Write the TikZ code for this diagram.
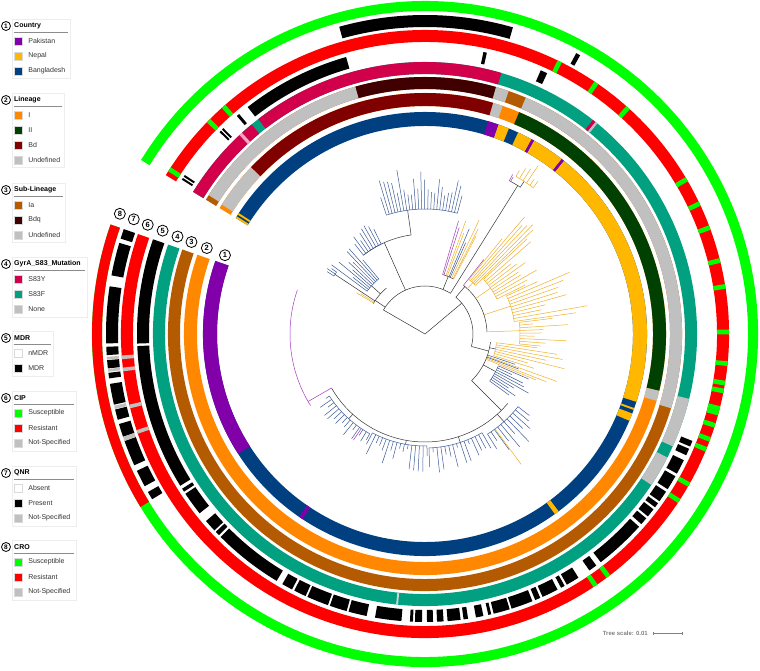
\documentclass[tikz,border=0pt]{standalone}
\usepackage{fontspec}
\setmainfont{Liberation Sans}
\usetikzlibrary{positioning}
\definecolor{pakC}{RGB}{130,0,170}
\definecolor{nepC}{RGB}{255,183,0}
\definecolor{banC}{RGB}{0,64,128}
\definecolor{linIC}{RGB}{255,136,0}
\definecolor{linIIC}{RGB}{0,64,0}
\definecolor{bdC}{RGB}{128,0,0}
\definecolor{undefC}{RGB}{192,192,192}
\definecolor{iaC}{RGB}{180,90,0}
\definecolor{bdqC}{RGB}{64,0,0}
\definecolor{syC}{RGB}{210,0,75}
\definecolor{sfC}{RGB}{0,160,128}
\definecolor{susC}{RGB}{0,255,0}
\definecolor{resC}{RGB}{255,0,0}
\definecolor{treeB}{RGB}{60,90,150}
\definecolor{treeY}{RGB}{240,175,40}
\definecolor{treeP}{RGB}{160,60,190}

% annular sector: inner r, outer r, from angle, to angle, colour
\newcommand{\ringseg}[5]{\fill[#5] (#3:#1) arc[start angle=#3, end angle=#4, radius=#1]
  -- (#4:#2) arc[start angle=#4, end angle=#3, radius=#2] -- cycle;}
% thin stripe: inner r, outer r, centre angle, half width, colour
\newcommand{\stripe}[5]{\pgfmathsetmacro\stA{#3+#4}\pgfmathsetmacro\stB{#3-#4}%
  \ringseg{#1}{#2}{\stA}{\stB}{#5}}
% clade: from, to, intervals, base r, min r, max r, colour
\newcommand{\clade}[7]{%
  \draw[branch,#7] (#1:#4) arc[start angle=#1, end angle=#2, radius=#4];
  \foreach \i in {0,...,#3}{%
    \pgfmathsetmacro\leafang{#1+(#2-#1)*\i/#3}%
    \pgfmathsetmacro\leafrad{#5+rnd*(#6-#5)}%
    \draw[branch,#7] (\leafang:#4) -- (\leafang:\leafrad);}}

\begin{document}
\begin{tikzpicture}[
  x=1pt, y=1pt,
  branch/.style={line width=0.5pt, black!80},
  ringnum/.style={circle, draw, line width=0.8pt, inner sep=0pt, minimum size=11pt,
    fill=white, font=\bfseries\fontsize{7.5}{8}\selectfont},
  legnum/.style={circle, draw, line width=0.8pt, inner sep=0pt, minimum size=9pt,
    font=\bfseries\fontsize{6.5}{7}\selectfont},
  legtitle/.style={anchor=west, inner sep=0pt, font=\bfseries\fontsize{7}{8}\selectfont},
  legsq/.style={draw=black!15, line width=0.3pt, minimum size=8pt, inner sep=0pt},
  legtext/.style={inner sep=0pt, font=\fontsize{7}{8}\selectfont, text=black!80},
  legframe/.style={draw=black!7, line width=0.4pt},
  legrule/.style={draw=black!45, line width=0.4pt}
]
\useasboundingbox (0,0) rectangle (760,670);

% ---------- legend ----------
% 1 Country
\draw[legframe] (12,592) rectangle (70,651);
\node[legnum] (n1) at (6,644) {1};
\node[legtitle] (g1) at (14,644) {Country};
\draw[legrule] (14,638) -- (68,638);
\foreach \c/\t [count=\k] in {pakC/Pakistan, nepC/Nepal, banC/Bangladesh} {
  \node[legsq, fill=\c] (c1-\k) at (18,{644-15*\k}) {};
  \node[legtext, right=6pt of c1-\k] (t1-\k) {\t};
}
% 2 Lineage
\draw[legframe] (12,503) rectangle (64,577);
\node[legnum] (n2) at (6,570) {2};
\node[legtitle] (g2) at (14,570) {Lineage};
\draw[legrule] (14,564) -- (62,564);
\foreach \c/\t [count=\k] in {linIC/I, linIIC/II, bdC/Bd, undefC/Undefined} {
  \node[legsq, fill=\c] (c2-\k) at (18,{570-15*\k}) {};
  \node[legtext, right=6pt of c2-\k] (t2-\k) {\t};
}
% 3 Sub-Lineage
\draw[legframe] (12,428) rectangle (65,487);
\node[legnum] (n3) at (6,480) {3};
\node[legtitle] (g3) at (14,480) {Sub-Lineage};
\draw[legrule] (14,474) -- (63,474);
\foreach \c/\t [count=\k] in {iaC/Ia, bdqC/Bdq, undefC/Undefined} {
  \node[legsq, fill=\c] (c3-\k) at (18,{480-15*\k}) {};
  \node[legtext, right=6pt of c3-\k] (t3-\k) {\t};
}
% 4 GyrA
\draw[legframe] (12,353) rectangle (87,413);
\node[legnum] (n4) at (6,406) {4};
\node[legtitle] (g4) at (14,406) {GyrA\_S83\_Mutation};
\draw[legrule] (14,400) -- (85,400);
\foreach \c/\t [count=\k] in {syC/S83Y, sfC/S83F, undefC/None} {
  \node[legsq, fill=\c] (c4-\k) at (18,{406-15*\k}) {};
  \node[legtext, right=6pt of c4-\k] (t4-\k) {\t};
}
% 5 MDR
\draw[legframe] (12,294) rectangle (53,339);
\node[legnum] (n5) at (6,332) {5};
\node[legtitle] (g5) at (14,332) {MDR};
\draw[legrule] (14,326) -- (51,326);
\foreach \c/\t [count=\k] in {white/nMDR, black/MDR} {
  \node[legsq, fill=\c] (c5-\k) at (18,{332-15*\k}) {};
  \node[legtext, right=6pt of c5-\k] (t5-\k) {\t};
}
% 6 CIP
\draw[legframe] (12,219) rectangle (76,279);
\node[legnum] (n6) at (6,272) {6};
\node[legtitle] (g6) at (14,272) {CIP};
\draw[legrule] (14,266) -- (74,266);
\foreach \c/\t [count=\k] in {susC/Susceptible, resC/Resistant, undefC/Not-Specified} {
  \node[legsq, fill=\c] (c6-\k) at (18,{272-15*\k}) {};
  \node[legtext, right=6pt of c6-\k] (t6-\k) {\t};
}
% 7 QNR
\draw[legframe] (12,144) rectangle (76,204);
\node[legnum] (n7) at (6,197) {7};
\node[legtitle] (g7) at (14,197) {QNR};
\draw[legrule] (14,191) -- (74,191);
\foreach \c/\t [count=\k] in {white/Absent, black/Present, undefC/Not-Specified} {
  \node[legsq, fill=\c] (c7-\k) at (18,{197-15*\k}) {};
  \node[legtext, right=6pt of c7-\k] (t7-\k) {\t};
}
% 8 CRO
\draw[legframe] (12,70) rectangle (76,130);
\node[legnum] (n8) at (6,123) {8};
\node[legtitle] (g8) at (14,123) {CRO};
\draw[legrule] (14,117) -- (74,117);
\foreach \c/\t [count=\k] in {susC/Susceptible, resC/Resistant, undefC/Not-Specified} {
  \node[legsq, fill=\c] (c8-\k) at (18,{123-15*\k}) {};
  \node[legtext, right=6pt of c8-\k] (t8-\k) {\t};
}

% ---------- rings ----------
\begin{scope}[shift={(425,336)}]
% ring 1: country
\ringseg{208}{222}{148.5}{-199.2}{banC}
\foreach \a/\b in {148.5/148.0, 147.5/147.0, 70.7/67.8, 65.2/61.3, 60.6/52.0, 51.3/-17.8,
  -19.5/-20.0, -21.0/-23.0, -53.0/-54.2}
  {\ringseg{208}{222}{\a}{\b}{nepC}}
\foreach \a/\b in {73.5/70.7, 61.3/60.6, 52.0/51.3, -123.5/-124.5, -147.3/-199.2}
  {\ringseg{208}{222}{\a}{\b}{pakC}}
% ring 2: lineage
\ringseg{228}{241}{148.5}{-199.2}{linIC}
\foreach \a/\b in {147.5/136.2, 73.6/71.2, -13.6/-16.1}
  {\ringseg{228}{241}{\a}{\b}{undefC}}
\ringseg{228}{241}{136.2}{73.6}{bdC}
\ringseg{228}{241}{67.0}{-13.6}{linIIC}
% ring 3: sub-lineage
\ringseg{245}{257}{148.5}{-199.2}{iaC}
\foreach \a/\b in {147.3/105.7, 74.0/71.0, 66.9/-16.8}
  {\ringseg{245}{257}{\a}{\b}{undefC}}
\ringseg{245}{257}{105.7}{74.0}{bdqC}
% ring 4: gyrA
\ringseg{260}{272}{148.5}{-199.2}{sfC}
\foreach \a/\b in {148.5/129.6, 127.8/73.7, 51.9/51.2}
  {\ringseg{260}{272}{\a}{\b}{syC}}
\ringseg{260}{272}{133.0}{132.3}{syC!35}
\foreach \a/\b in {51.2/50.7, -13.8/-24.4, -27.0/-33.7}
  {\ringseg{260}{272}{\a}{\b}{undefC}}
\ringseg{260}{272}{-95.7}{-96.1}{undefC!70}
% ring 5: MDR
\foreach \a/\b in {147.6/147.2, 146.9/146.5, 135.5/135.1, 134.8/134.4, 130.8/130.2, 128.0/105.9,
  78.3/77.6, 66.3/64.9, -21.8/-23.0, -23.5/-24.9, -26.0/-29.0, -29.6/-32.6, -33.2/-35.5,
  -36.0/-37.0, -37.5/-39.3, -39.8/-41.3, -42.0/-52.4, -53.5/-55.2, -57.8/-60.5, -61.0/-61.8,
  -62.6/-65.9, -66.4/-67.5, -68.1/-72.5, -72.9/-76.2, -76.7/-77.3, -78.3/-79.8, -81.4/-82.3,
  -82.9/-85.5, -86.3/-87.6, -88.4/-89.6, -90.6/-92.0, -92.4/-93.0, -94.7/-100.0,
  -101.7/-105.4, -105.8/-109.3, -109.7/-114.1, -114.5/-117.0, -117.5/-119.7, -121.0/-135.2,
  -135.7/-136.6, -137.0/-139.5, -141.5/-146.3, -146.8/-147.5, -148.2/-177.6, -178.1/-199.2}
  {\ringseg{276}{288}{\a}{\b}{black}}
% ring 6: CIP
\ringseg{292}{304}{148.5}{-199.2}{resC}
\foreach \m in {147.2, 135.4, 131.5, 63.7, 55.7, 48.1, 30.6, 25.4, 20.5, 14, 9, 0.4, -5.6,
  -9.3, -10.8, -14.2, -15.1, -17.5, -20.3, -22.3, -29.7, -33.3, -52.9, -55.9}
  {\stripe{292}{304}{\m}{0.45}{susC}}
\foreach \m in {-161.2, -166.2, -173.3, -175.6}
  {\stripe{292}{304}{\m}{0.35}{undefC}}
% ring 7: QNR
\foreach \a/\b in {105.6/74.0, 61.7/60.9, -148.8/-150.3, -151.5/-154.6, -155.7/-160.4,
  -161.2/-163.6, -164.4/-166.3, -167.2/-171.0, -172.0/-173.0, -173.8/-175.3, -176.2/-177.7,
  -178.3/-188.6, -190.6/-196.6, -197.4/-199.2}
  {\ringseg{307}{319}{\a}{\b}{black}}
\foreach \a/\b in {-160.4/-161.2, -166.4/-167.0, -173.2/-173.7, -175.4/-175.9}
  {\ringseg{307}{319}{\a}{\b}{undefC}}
% ring 8: CRO
\ringseg{323}{333}{148.5}{-199.2}{susC}
\ringseg{323}{333}{-148.7}{-199.2}{resC}
% ring numbers
\foreach \r [count=\k] in {215, 234.5, 251, 266, 282, 298, 313, 328}
  {\node[ringnum] (rn\k) at (158.5:\r) {\k};}

% ---------- tree ----------
\pgfmathsetseed{11}
\draw[branch] (150:48) -- (0,0) -- (40:48);
\draw[branch] (150:48) arc[start angle=150, end angle=58, radius=48];
\draw[branch] (50:48) arc[start angle=50, end angle=-15, radius=48];
% top-left clades
\draw[branch] (146:48) -- (146:60);
\draw[branch] (149.5:60) arc[start angle=149.5, end angle=130, radius=60];
\draw[branch,treeY] (149.0:60) -- (149.0:80);
\draw[branch,treeY] (147.9:60) -- (147.9:76);
\draw[branch] (146.5:60) -- (146.5:108);
\clade{147.5}{145}{2}{108}{112}{118}{treeB}
\draw[branch] (138:60) -- (138:72);
\clade{143.5}{130}{8}{72}{90}{128}{treeB}
\draw[branch] (114:48) -- (114:100);
\draw[branch] (128:100) arc[start angle=128, end angle=98, radius=100];
\clade{128}{116}{7}{100}{108}{126}{treeB}
\draw[branch] (98:100) -- (98:125);
\clade{108}{75}{24}{125}{138}{168}{treeB}
% mixed clade
\draw[branch] (68:48) -- (68:62);
\draw[branch] (73.5:62) arc[start angle=73.5, end angle=62.5, radius=62];
\foreach \a/\c/\r in {73.5/treeP/118, 72.2/treeP/112, 70.2/treeY/120, 69/treeY/108,
  67.2/treeB/114, 66/treeB/100, 64.6/treeY/126, 63.2/treeY/118, 62.5/treeY/110}
  {\draw[branch,\c] (\a:62) -- (\a:\r);}
% long branch
\draw[branch] (58:48) -- (58:175);
\draw[branch] (61.2:175) arc[start angle=61.2, end angle=57, radius=175];
\draw[branch,treeP] (61.2:175) -- (61.2:182);
\draw[branch,treeP] (60.7:175) -- (60.7:180);
\draw[branch] (57:175) -- (57:182);
\clade{60}{53.5}{5}{182}{188}{205}{treeY}
% Nepal clade
\draw[branch] (50:48) -- (50:62);
\draw[branch] (51.7:62) arc[start angle=51.7, end angle=2, radius=62];
\draw[branch,treeP] (51.7:62) -- (51.7:95);
\draw[branch,treeY] (47:62) -- (47:70);
\clade{51}{44}{5}{70}{115}{172}{treeY}
\draw[branch,treeY] (35:62) -- (35:80);
\clade{43}{26}{9}{80}{100}{150}{treeY}
\draw[branch,treeY] (18:62) -- (18:90);
\clade{25}{8}{9}{90}{110}{170}{treeY}
\draw[branch,treeY] (2:62) -- (2:95);
\clade{7}{-6}{8}{95}{108}{150}{treeY}
% lower clades
\draw[branch] (-15:48) -- (-15:66);
\draw[branch] (-7:66) arc[start angle=-7, end angle=-45, radius=66];
\draw[branch] (-12:66) -- (-12:72);
\clade{-7}{-17.5}{6}{72}{105}{150}{treeY}
\foreach \a/\c/\r in {-18.6/treeB/95, -19.8/treeY/140, -20.5/treeB/100, -21.5/treeY/130,
  -22.5/treeY/120}
  {\draw[branch,\c] (\a:66) -- (\a:\r);}
\draw[branch] (-28:66) -- (-28:80);
\clade{-23.5}{-36}{8}{80}{95}{125}{treeB}
\draw[branch] (-45:66) -- (-45:108);
\draw[branch] (-40:108) arc[start angle=-40, end angle=-150, radius=108];
\draw[branch] (-48:108) -- (-48:118);
\clade{-38}{-58}{10}{118}{128}{150}{treeB}
\draw[branch,treeY] (-53.6:118) -- (-53.6:162);
\draw[branch] (-72:108) -- (-72:114);
\clade{-60}{-88}{14}{114}{118}{140}{treeB}
\draw[branch] (-100:108) -- (-100:112);
\clade{-89}{-118}{15}{112}{116}{138}{treeB}
\draw[branch] (-132:108) -- (-132:114);
\clade{-119}{-147}{14}{114}{118}{132}{treeB}
\draw[branch,treeP] (-124:114) -- (-124:128);
\draw[branch,treeP] (-150:108) -- (-150:135);
\draw[branch,treeP] (-148:135) arc[start angle=-148, end angle=-199, radius=135];
\end{scope}

% ---------- scale bar ----------
\node[anchor=east, inner sep=0pt, text=black!50, font=\bfseries\fontsize{6}{7}\selectfont]
  (scaletxt) at (648,37) {Tree scale: 0.01};
\coordinate (sbA) at (653,37);
\coordinate (sbB) at (682,37);
\draw[black!50, line width=0.5pt] (sbA) -- (sbB);
\draw[black!50, line width=0.5pt] ([yshift=-1.5pt]sbA) -- ([yshift=1.5pt]sbA);
\draw[black!50, line width=0.5pt] ([yshift=-1.5pt]sbB) -- ([yshift=1.5pt]sbB);
\end{tikzpicture}
\end{document}
